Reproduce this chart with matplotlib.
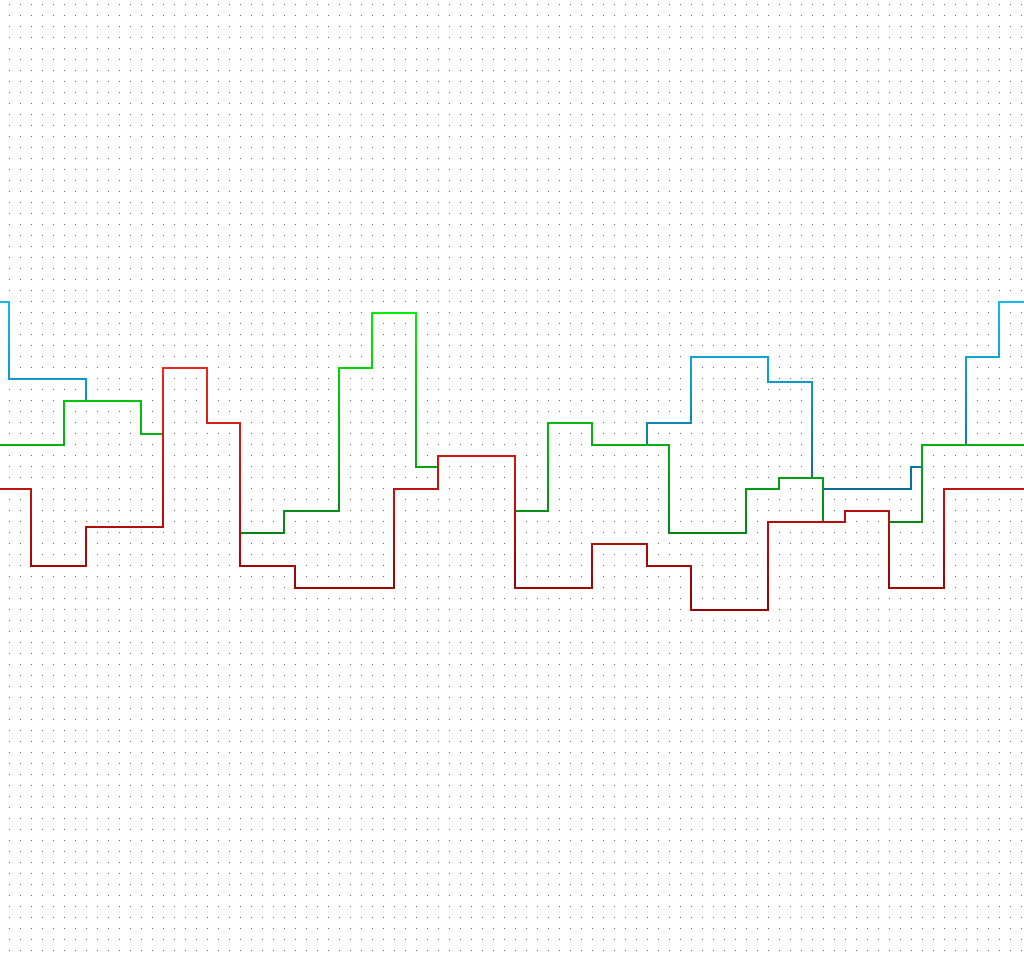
import numpy as np
import matplotlib
matplotlib.use('Agg')
import matplotlib.pyplot as plt
from matplotlib.collections import LineCollection
from matplotlib.colors import LinearSegmentedColormap, Normalize

### Data (x = step start, value = level held until next step)
x_end = 93

blue_x = [-1, 0, 7, 12, 14, 18, 21, 25, 30, 33, 37, 39, 46, 49, 53, 58, 62,
          69, 73, 74, 82, 83, 87, 90]
blue_v = [59, 52, 50, 47, 53, 48, 38, 40, 53, 58, 44, 45, 40, 48, 46, 48, 54,
          51.73, 43, 42, 44, 46, 54, 59]

green_x = [-1, 5, 12, 14, 18, 21, 25, 30, 33, 37, 39, 46, 49, 53, 60, 67, 70,
           74, 76, 80, 83]
green_v = [46, 50, 47, 53, 48, 38, 40, 53, 58, 44, 45, 40, 48, 46, 38, 42, 43,
           39, 40, 39, 46]

red_x = [-1, 2, 7, 14, 18, 21, 26, 35, 39, 46, 53, 58, 62, 69, 76, 80, 85]
red_v = [42, 35, 38.55, 53, 48, 35, 33, 42, 45, 33, 37, 35, 31, 39, 40, 33, 42]

# Draw globals
gradients = {
    'blue': ['#043a58', '#12bbee'],
    'green': ['#06601e', '#00f400'],
    'red': ['#960000', '#ff3322'],
}
norm = Normalize(vmin=31, vmax=59)


def step_segments(xs, vs, end):
    # build the step path, then chop it into short pieces for the gradient
    px, py = [], []
    edges = list(xs[1:]) + [end]
    for i, v in enumerate(vs):
        px += [xs[i], edges[i]]
        py += [v, v]
    segs, mids = [], []
    for i in range(len(px) - 1):
        x0, y0, x1, y1 = px[i], py[i], px[i + 1], py[i + 1]
        n = max(1, int(abs(y1 - y0) / 0.2))
        ts = np.linspace(0, 1, n + 1)
        xx = x0 + (x1 - x0) * ts
        yy = y0 + (y1 - y0) * ts
        for j in range(n):
            segs.append([(xx[j], yy[j]), (xx[j + 1], yy[j + 1])])
            mids.append((yy[j] + yy[j + 1]) / 2)
    return segs, np.array(mids)


fig = plt.figure(figsize=(10.24, 9.6), dpi=100)
ax = fig.add_axes([0, 0, 1, 1])
ax.set_axis_off()
ax.set_xlim(-9 / 11, 1015 / 11)
ax.set_ylim(-9 / 11, 86 + 5 / 11)

# dotted background grid
gx, gy = np.meshgrid(np.arange(0, 93), np.arange(0, 87))
ax.plot(gx.ravel(), gy.ravel(), ',', color='#666666', zorder=0)

for name, xs, vs, z in [('blue', blue_x, blue_v, 1),
                        ('green', green_x, green_v, 2),
                        ('red', red_x, red_v, 3)]:
    cmap = LinearSegmentedColormap.from_list(name, gradients[name])
    segs, mids = step_segments(xs, vs, x_end)
    lc = LineCollection(segs, colors=cmap(norm(mids)), linewidths=1.2,
                        capstyle='projecting', antialiased=False, zorder=z)
    ax.add_collection(lc)

fig.savefig('out.png', dpi=100, facecolor='white')
